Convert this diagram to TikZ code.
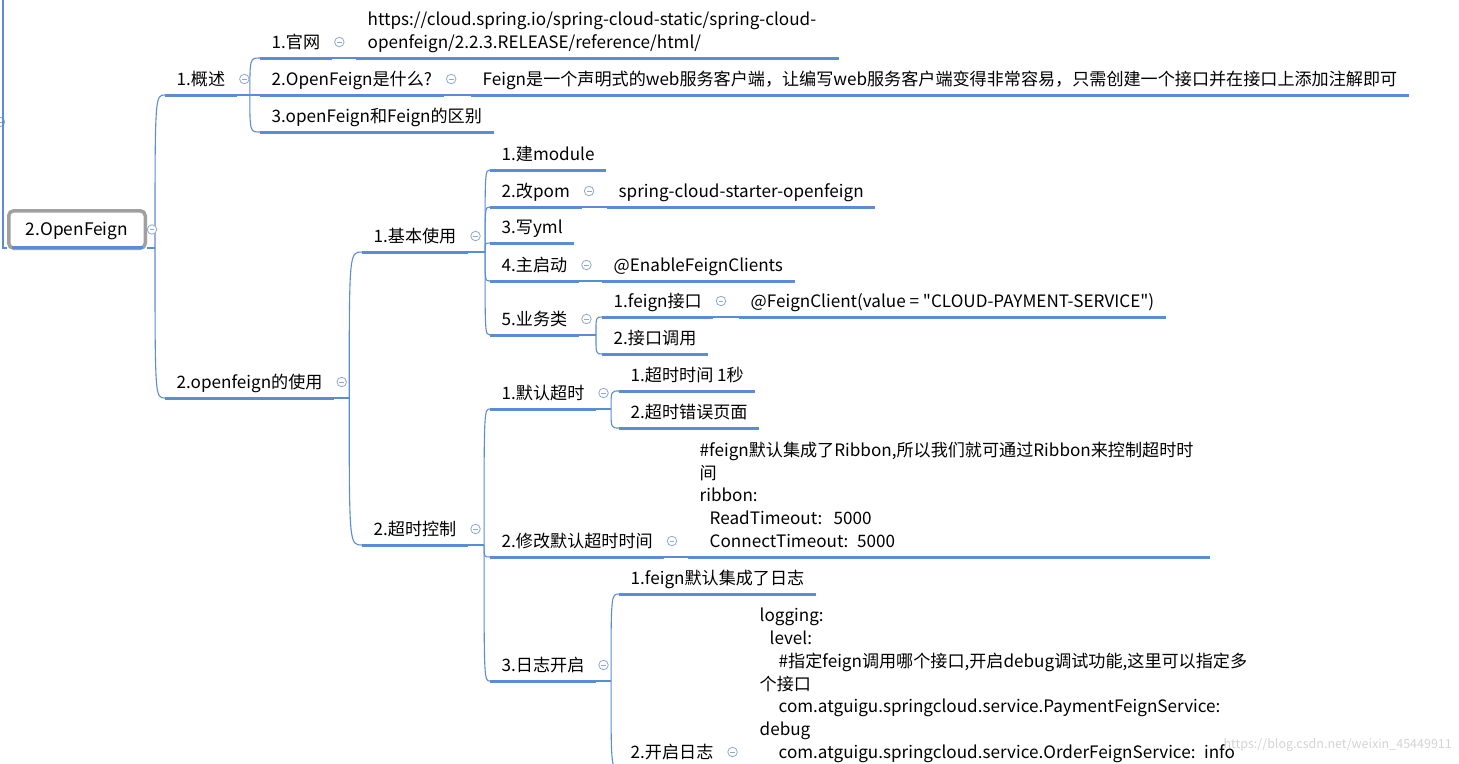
\documentclass[tikz,border=0pt]{standalone}
\usepackage{fontspec}
\setmainfont{Noto Sans CJK SC}
\newfontfamily\plainfont{Noto Sans CJK SC}
\usetikzlibrary{positioning,calc}

\definecolor{lineblue}{HTML}{5B8DD6}
\definecolor{foldblue}{HTML}{8FA8D2}
\definecolor{boxgray}{HTML}{A0A0A0}
\definecolor{wmgray}{HTML}{D4D4D4}

\newcommand{\dstrut}{\rule[-6.4pt]{0pt}{6.4pt}}
\newcommand{\dq}{{\plainfont"}}

\tikzset{
	topic/.style={anchor=south west, inner xsep=11.5pt, inner ysep=3pt, font=\fontsize{17.1}{22.8}\selectfont, execute at end node=\dstrut},
	block/.style={topic, align=left, text width=#1},
	uline/.style={draw=lineblue, line width=3pt},
	conn/.style={draw=lineblue, line width=1.1pt},
	fold/.style={circle, draw=foldblue, fill=white, line width=0.8pt, inner sep=0pt, minimum size=9.5pt,
		path picture={\draw[foldblue, line width=0.8pt] ([xshift=2.3pt]path picture bounding box.west) -- ([xshift=-2.3pt]path picture bounding box.east);}},
	rootbox/.style={draw=boxgray, line width=3.5pt, rounded corners=5pt, minimum width=136.5pt, minimum height=37.5pt,
		inner sep=0pt, text height=11.5pt, text depth=0pt, font=\fontsize{17.3}{22.8}\selectfont},
	wmark/.style={text=wmgray, font=\fontsize{12.5}{15}\selectfont, anchor=east, inner sep=0pt}
}

\begin{document}
\begin{tikzpicture}[x=1pt,y=-1pt]
\fill[white, use as bounding box] (0,0) rectangle (1459,763);
\clip (0,0) rectangle (1459,763);

% root
\node[rootbox] (root) at (77,229.5) {2.OpenFeign};
\coordinate (up) at (3,-5);
\node[fold] (up-f) at (0,122) {};

% first level
\node[topic] (gs) at (165,95) {1.概述};
\node[topic] (use) at (165,398) {2.openfeign的使用};

% 1.概述
\node[topic] (gw) at (260,58) {1.官网};
\node[block=460pt] (url) at (356,58) {https://cloud.spring.io/spring-cloud-static/spring-cloud-\\openfeign/2.2.3.RELEASE/reference/html/};
\node[topic] (what) at (260,95) {2.OpenFeign是什么?};
\node[topic] (ans) at (471,95) {Feign是一个声明式的web服务客户端，让编写web服务客户端变得非常容易，只需创建一个接口并在接口上添加注解即可};
\node[topic] (diff) at (260,132) {3.openFeign和Feign的区别};

% 2.openfeign的使用
\node[topic] (basic) at (362,252) {1.基本使用};
\node[topic] (timeout) at (362,545) {2.超时控制};

% 1.基本使用
\node[topic] (mod) at (490,170) {1.建module};
\node[topic] (pom) at (490,207) {2.改pom};
\node[topic] (pomdep) at (607,207) {spring-cloud-starter-openfeign};
\node[topic] (yml) at (490,243) {3.写yml};
\node[topic] (boot) at (490,281) {4.主启动};
\node[topic] (bootann) at (602,281) {@EnableFeignClients};
\node[topic] (biz) at (490,335) {5.业务类};
\node[topic] (fcli) at (602,317) {1.feign接口};
\node[topic] (fann) at (739,317) {@FeignClient(value = \dq CLOUD-PAYMENT-SERVICE\dq)};
\node[topic] (call) at (602,354) {2.接口调用};

% 2.超时控制
\node[topic] (deft) at (490,409) {1.默认超时};
\node[topic] (t1s) at (619,391) {1.超时时间 1秒};
\node[topic] (terr) at (619,428) {2.超时错误页面};
\node[topic] (chg) at (490,557) {2.修改默认超时时间};
\node[block=499pt] (ribbon) at (688,557) {\#feign默认集成了Ribbon,所以我们就可通过Ribbon来控制超时时\\间\\ribbon:\\
	\hspace*{10pt}ReadTimeout:\ \ 5000\\\hspace*{10pt}ConnectTimeout: 5000};
\node[topic] (log) at (490,681) {3.日志开启};
\node[topic] (log1) at (619,594) {1.feign默认集成了日志};
\node[topic] (logon) at (619,768) {2.开启日志};
\node[block=492pt] (logcfg) at (748,768) {logging:\\\hspace*{10pt}level:\\
	\hspace*{19pt}\#指定feign调用哪个接口,开启debug调试功能,这里可以指定多\\个接口\\
	\hspace*{19pt}com.atguigu.springcloud.service.PaymentFeignService:\\debug\\
	\hspace*{19pt}com.atguigu.springcloud.service.OrderFeignService: info};

% connectors
\draw[conn] (up) |- ([yshift=2pt]root.south west);
\coordinate (root-b) at ([shift={(8,-2)}]root.south east);
\draw[conn] ([yshift=2pt]root.south east) -- (root-b);
\foreach \k in {gs,use}
	\draw[conn] (root-b) .. controls (root-b |- \k.south west) .. (\k.south west);

\foreach \p/\dx/\kids in {gs/13/{gw,what,diff}, use/15/{basic,timeout}, basic/17/{mod,pom,yml,boot,biz},
		biz/17/{fcli,call}, timeout/16/{deft,chg,log}, deft/15/{t1s,terr}, log/15/{log1,logon}}{
	\coordinate (\p-b) at ([xshift=\dx pt]\p.south east);
	\draw[conn] (\p.south east) -- (\p-b);
	\foreach \k in \kids
		\draw[conn] (\p-b) .. controls (\p-b |- \k.south west) .. (\k.south west);
}

\foreach \a/\b in {gw/url,what/ans,pom/pomdep,boot/bootann,fcli/fann,chg/ribbon,logon/logcfg}
	\draw[conn] (\a.south east) -- (\b.south west);

% underlines
\foreach \n in {gs,use,gw,url,what,ans,diff,basic,timeout,mod,pom,pomdep,yml,boot,bootann,biz,fcli,fann,call,deft,t1s,terr,chg,ribbon,log,log1,logon,logcfg}
	\draw[uline] (\n.south west) -- (\n.south east);
\draw[uline] ([shift={(5,-2.5)}]root.south west) -- ([shift={(-4,-2.5)}]root.south east);

% fold icons
\foreach \n in {gs,use,gw,what,basic,timeout,pom,boot,biz,fcli,deft,chg,log,logon}
	\node[fold] (\n-f) at ([shift={(7.5,-16)}]\n.south east) {};
\node[fold] (root-f) at ([xshift=5pt]root.east) {};

\node[wmark] (wm) at (1452,745) {https://blog.csdn.net/weixin\_45449911};
\end{tikzpicture}
\end{document}
